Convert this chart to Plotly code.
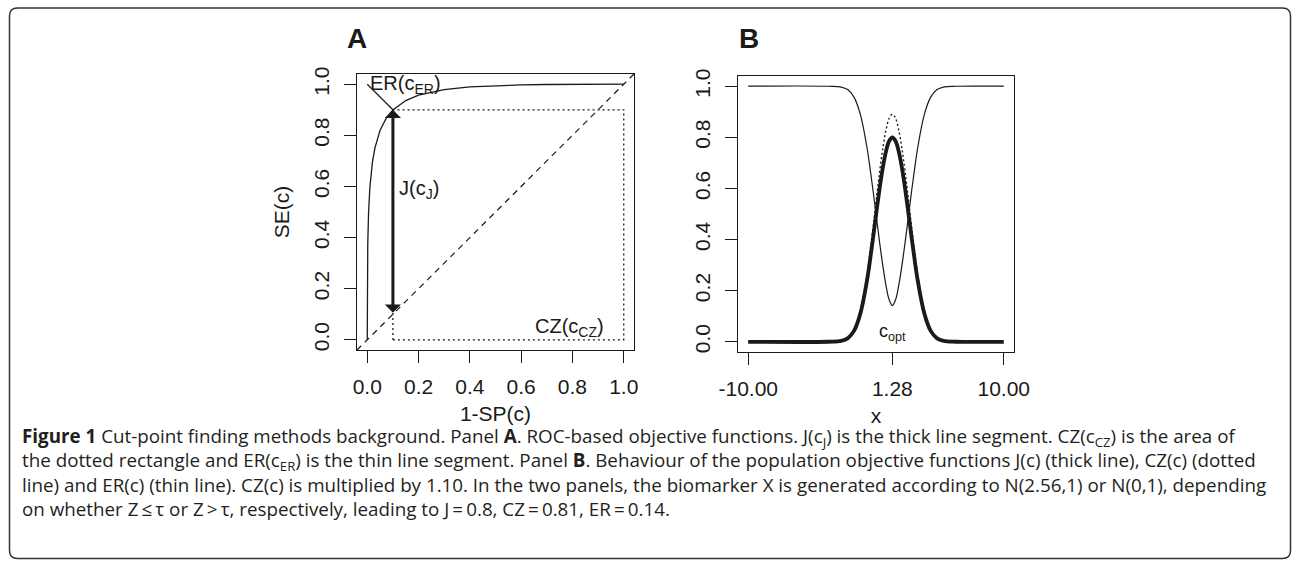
import plotly.graph_objects as go

# ---------------- data ----------------
# Panel A: binormal ROC curve (1-SP, SE)
roc_fpr = [0, 0.0001, 0.0005, 0.001, 0.002, 0.005, 0.01, 0.02, 0.03, 0.05, 0.075,
           0.1, 0.15, 0.2, 0.3, 0.4, 0.5, 0.6, 0.7, 0.8, 0.9, 1.0]
roc_se = [0, 0.123, 0.233, 0.298, 0.375, 0.494, 0.593, 0.694, 0.751, 0.820, 0.869,
          0.899, 0.936, 0.957, 0.979, 0.990, 0.995, 0.9975, 0.999, 0.9997, 0.9999, 1.0]
cut_fpr = 0.1      # 1-SP at optimal cut point
cut_se = 0.9       # SE at optimal cut point
a_ticks = [0.0, 0.2, 0.4, 0.6, 0.8, 1.0]

# Panel B: objective functions against cut point x
b_x = [-10, -3.72, -2.72, -2.22, -1.72, -1.22, -0.72, -0.47, -0.22, 0.03, 0.28, 0.53, 0.78, 1.03,
       1.28,
       1.53, 1.78, 2.03, 2.28, 2.53, 2.78, 3.03, 3.28, 3.78, 4.28, 4.78, 5.28, 6.28, 10]
b_j = [0, 0.0001, 0.0033, 0.0132, 0.0427, 0.1111, 0.2353, 0.3180, 0.4102, 0.5063, 0.5990, 0.6807, 0.7448, 0.7855,
       0.7994,
       0.7855, 0.7448, 0.6807, 0.5990, 0.5063, 0.4102, 0.3180, 0.2353, 0.1111, 0.0427, 0.0132, 0.0033, 0.0001, 0]
b_cz = [0, 0.0001, 0.0036, 0.0145, 0.0470, 0.1223, 0.2593, 0.3507, 0.4530, 0.5600, 0.6637, 0.7557, 0.8283, 0.8745,
        0.8904,
        0.8745, 0.8283, 0.7557, 0.6637, 0.5600, 0.4530, 0.3507, 0.2593, 0.1223, 0.0470, 0.0145, 0.0036, 0.0001, 0]
b_er = [1, 0.9999, 0.9967, 0.9868, 0.9573, 0.8888, 0.7642, 0.6808, 0.5871, 0.4880, 0.3899, 0.2988, 0.2209, 0.1641,
        0.1418,
        0.1641, 0.2209, 0.2988, 0.3899, 0.4880, 0.5871, 0.6808, 0.7642, 0.8888, 0.9573, 0.9868, 0.9967, 0.9999, 1]
c_opt = 1.28
b_xticks = [-10, 1.28, 10]
b_xticktext = ["-10.00", "1.28", "10.00"]
b_yticks = [0.0, 0.2, 0.4, 0.6, 0.8, 1.0]

caption_lines = [
    "<b>Figure 1</b> Cut-point finding methods background. Panel <b>A</b>. ROC-based objective functions. "
    "J(c<sub>J</sub>) is the thick line segment. CZ(c<sub>CZ</sub>) is the area of",
    "the dotted rectangle and ER(c<sub>ER</sub>) is the thin line segment. Panel <b>B</b>. Behaviour of the "
    "population objective functions J(c) (thick line), CZ(c) (dotted",
    "line) and ER(c) (thin line). CZ(c) is multiplied by 1.10. In the two panels, the biomarker X is generated "
    "according to N(2.56,1) or N(0,1), depending",
    "on whether Z\u2009\u2264\u2009\u03c4 or Z\u2009>\u2009\u03c4, respectively, leading to J\u2009=\u20090.8, "
    "CZ\u2009=\u20090.81, ER\u2009=\u20090.14.",
]

# ---------------- layout constants ----------------
W, H = 1292, 562
FONT = "Liberation Sans, Arial, Helvetica, sans-serif"
CAP_FONT = "Open Sans, Noto Sans, sans-serif"
INK = "#1a1a1a"


def px_x(p):
    return p / W


def px_y(p):
    return 1 - p / H


fig = go.Figure()

# ---- Panel A ----
fig.add_trace(go.Scatter(x=roc_fpr, y=roc_se, mode="lines", line=dict(color=INK, width=1.3),
                         xaxis="x", yaxis="y", showlegend=False, hoverinfo="skip"))
fig.add_trace(go.Scatter(x=[cut_fpr, 1, 1, cut_fpr, cut_fpr], y=[0, 0, cut_se, cut_se, 0], mode="lines",
                         line=dict(color=INK, width=1.3, dash="2px,3px"),
                         xaxis="x", yaxis="y", showlegend=False, hoverinfo="skip"))
fig.add_trace(go.Scatter(x=[0, cut_fpr], y=[1, cut_se], mode="lines", line=dict(color=INK, width=1.2),
                         xaxis="x", yaxis="y", showlegend=False, hoverinfo="skip"))

# ---- Panel B ----
fig.add_trace(go.Scatter(x=b_x, y=b_er, mode="lines", line=dict(color=INK, width=1.2, shape="spline"),
                         xaxis="x2", yaxis="y2", showlegend=False, name="ER(c)"))
fig.add_trace(go.Scatter(x=b_x, y=b_cz, mode="lines",
                         line=dict(color=INK, width=1.4, dash="2px,2.5px", shape="spline"),
                         xaxis="x2", yaxis="y2", showlegend=False, name="CZ(c)"))
fig.add_trace(go.Scatter(x=b_x, y=b_j, mode="lines", line=dict(color=INK, width=3.8, shape="spline"),
                         xaxis="x2", yaxis="y2", showlegend=False, name="J(c)"))

axis_common = dict(showgrid=False, zeroline=False, showline=True, mirror=True, linecolor=INK, linewidth=1.3,
                   ticks="outside", ticklen=12, tickwidth=1.3, tickcolor=INK, automargin=False,
                   tickfont=dict(family=FONT, size=21, color=INK))
title_font = dict(family=FONT, size=21, color=INK)

fig.update_layout(
    width=W, height=H, margin=dict(l=0, r=0, t=0, b=0, pad=0, autoexpand=False),
    paper_bgcolor="white", plot_bgcolor="white",
    xaxis=dict(axis_common, domain=[px_x(357), px_x(634)], range=[-0.04, 1.04],
               tickvals=a_ticks, tickformat=".1f", ticklabelstandoff=6, anchor="y",
               title=dict(text="1-SP(c)", font=title_font, standoff=8)),
    yaxis=dict(axis_common, domain=[px_y(350), px_y(74)], range=[-0.04, 1.04],
               tickvals=a_ticks, tickformat=".1f", tickangle=-90, ticklabelstandoff=6, anchor="x",
               title=dict(text="SE(c)", font=title_font, standoff=15)),
    xaxis2=dict(axis_common, domain=[px_x(738), px_x(1014)], range=[-10.8, 10.8],
                tickvals=b_xticks, ticktext=b_xticktext, ticklabelstandoff=6, anchor="y2",
                title=dict(text="x", font=title_font, standoff=8)),
    yaxis2=dict(axis_common, domain=[px_y(352), px_y(76)], range=[-0.04, 1.04],
                tickvals=b_yticks, tickformat=".1f", tickangle=-90, ticklabelstandoff=6, anchor="x2"),
)

# diagonal reference line (panel A)
fig.add_shape(type="line", xref="x domain", yref="y domain", x0=0, y0=0, x1=1, y1=1,
              line=dict(color=INK, width=1.2, dash="6px,5px"))

# double-headed arrow J(c_J)
fig.add_annotation(x=cut_fpr, y=cut_se, ax=cut_fpr, ay=1 - cut_se, xref="x", yref="y", axref="x", ayref="y",
                   text="", showarrow=True, arrowside="end+start", arrowhead=1, startarrowhead=1,
                   arrowsize=0.9, startarrowsize=0.9, arrowwidth=3, arrowcolor=INK,
                   standoff=0, startstandoff=0)

ann_font = dict(family=FONT, size=20, color=INK)
fig.add_annotation(x=0.15, y=1.0, xref="x", yref="y", text="ER(c<sub>ER</sub>)", showarrow=False, font=ann_font,
                   xanchor="center", yanchor="middle")
fig.add_annotation(x=0.2, y=0.59, xref="x", yref="y", text="J(c<sub>J</sub>)", showarrow=False, font=ann_font,
                   xanchor="center", yanchor="middle")
fig.add_annotation(x=0.79, y=0.05, xref="x", yref="y", text="CZ(c<sub>CZ</sub>)", showarrow=False, font=ann_font,
                   xanchor="center", yanchor="middle")
fig.add_annotation(x=c_opt, y=0.035, xref="x2", yref="y2", text="c<sub>opt</sub>", showarrow=False,
                   font=dict(family=FONT, size=18, color=INK), xanchor="center", yanchor="middle")

# panel letters
fig.add_annotation(x=px_x(357), y=px_y(38), xref="paper", yref="paper", text="<b>A</b>", showarrow=False,
                   font=dict(family=FONT, size=28, color=INK), xanchor="center", yanchor="middle")
fig.add_annotation(x=px_x(749), y=px_y(38), xref="paper", yref="paper", text="<b>B</b>", showarrow=False,
                   font=dict(family=FONT, size=28, color=INK), xanchor="center", yanchor="middle")

# caption
for i, line in enumerate(caption_lines):
    fig.add_annotation(x=px_x(20), y=px_y(437 + 24 * i), xref="paper", yref="paper", xanchor="left",
                       yanchor="middle", text=line, showarrow=False, align="left",
                       font=dict(family=CAP_FONT, size=18.8, color="#231f20"))

# rounded frame
x0, x1 = px_x(9.5), px_x(1290.5)
y0, y1 = px_y(558.5), px_y(8)
rx, ry = 8 / W, 8 / H
path = (f"M {x0 + rx},{y1} L {x1 - rx},{y1} Q {x1},{y1} {x1},{y1 - ry} "
        f"L {x1},{y0 + ry} Q {x1},{y0} {x1 - rx},{y0} "
        f"L {x0 + rx},{y0} Q {x0},{y0} {x0},{y0 + ry} "
        f"L {x0},{y1 - ry} Q {x0},{y1} {x0 + rx},{y1} Z")
fig.add_shape(type="path", xref="paper", yref="paper", path=path, line=dict(color="#333333", width=1.5))

fig.write_html("out.html", config={"displayModeBar": False},
               post_script="document.body.style.margin='0px';document.body.style.overflow='hidden';")
